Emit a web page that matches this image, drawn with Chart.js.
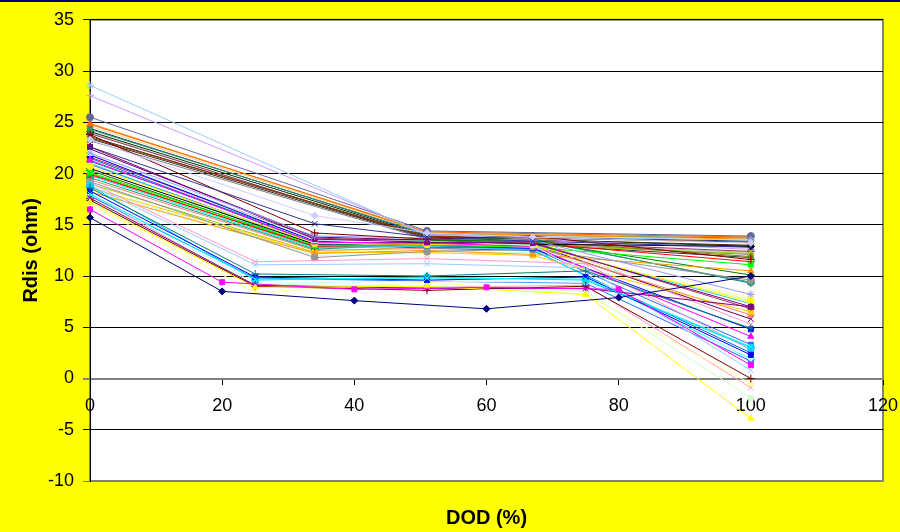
<!DOCTYPE html>
<html><head><meta charset="utf-8">
<script src="https://cdn.jsdelivr.net/npm/chart.js@4/dist/chart.umd.min.js"></script>
<style>html,body{margin:0;padding:0;background:#ffff00;overflow:hidden}#wrap{width:900px;height:532px;position:relative}canvas{display:block}</style>
</head><body><div id="wrap"><canvas id="c" width="900" height="532"></canvas></div>
<script>
// x values (DOD %) for each group of test series
const dodA = [0, 34, 51, 67, 100];
const dodB = [0, 51, 100];
const dodC = [0, 25, 51, 75, 100];
const dodD = [0, 20, 40, 60, 80, 100];

// Rdis (ohm) values, one array per series
const rdisA = [
  [22.6, 15.1, 13.8, 13.4, 12.8],
  [23.3, 15.9, 14.2, 13.8, 13.2],
  [23.8, 14.2, 13.6, 13.9, 11.6],
  [22.0, 13.9, 13.7, 13.5, 8.2],
  [22.6, 13.6, 13.3, 13.2, 7.0],
  [22.0, 13.5, 13.4, 13.0, 1.6],
  [21.3, 13.3, 13.2, 12.9, 4.1],
  [20.7, 13.2, 13.1, 13.0, 7.5],
  [20.1, 13.0, 13.0, 12.8, 11.1],
  [20.5, 13.1, 13.3, 13.1, 12.9],
  [19.9, 12.9, 13.1, 13.2, 11.4],
  [21.8, 13.4, 13.0, 12.7, 4.8],
  [19.2, 11.8, 12.4, 12.6, 9.6],
  [18.2, 12.2, 12.5, 12.1, 10.5],
  [18.6, 12.3, 12.3, 12.0, 6.5],
  [21.0, 12.8, 12.9, 13.1, 7.3],
  [20.9, 13.1, 12.8, 12.7, 3.3],
  [20.3, 12.9, 13.5, 13.4, 10.1],
  [19.6, 12.6, 13.2, 13.5, 9.4],
  [21.6, 13.7, 13.4, 13.3, 6.8],
  [19.8, 12.7, 12.9, 12.6, 1.9],
  [19.4, 12.5, 12.7, 12.9, 6.2],
  [21.5, 13.2, 12.7, 12.5, 2.5],
  [22.4, 13.8, 13.5, 13.1, 5.8],
  [20.0, 12.8, 13.1, 13.4, 11.9],
  [21.2, 13.5, 13.6, 13.6, 9.3],
  [20.4, 12.4, 12.6, 12.5, 7.9],
  [19.0, 12.3, 12.9, 13.0, 12.2],
  [18.5, 12.0, 12.2, 12.3, 7.7],
  [21.9, 13.0, 13.2, 13.7, 5.3]
];
const rdisB = [
  [28.6, 14.0, 13.5],
  [27.6, 14.1, 12.6],
  [25.5, 14.4, 13.9],
  [24.8, 14.3, 13.8],
  [24.9, 14.2, 13.6],
  [24.3, 14.1, 13.7],
  [23.5, 13.9, 13.3],
  [24.4, 14.0, 13.4],
  [23.6, 13.8, 13.0],
  [23.9, 13.7, 12.4],
  [24.1, 13.9, 12.9],
  [24.6, 14.2, 13.8],
  [23.2, 13.6, 12.1],
  [23.4, 13.7, 11.8],
  [24.0, 13.6, 12.3]
];
const rdisC = [
  [17.2, 8.9, 9.0, 8.2, -3.9],
  [18.0, 9.7, 9.8, 9.7, 3.1],
  [17.6, 9.1, 8.8, 8.8, 7.0],
  [17.4, 9.0, 8.6, 9.0, 0.0],
  [18.6, 10.2, 10.0, 10.5, 4.9],
  [18.3, 9.9, 9.6, 9.9, 2.3],
  [18.8, 9.6, 9.9, 9.6, 3.0],
  [18.0, 9.3, 9.5, 9.4, 2.0],
  [17.5, 9.2, 9.0, 8.5, -1.9],
  [17.0, 8.4, 9.4, 8.2, -0.5],
  [18.9, 11.1, 11.2, 10.8, 0.8],
  [19.1, 11.4, 11.7, 11.2, 2.8],
  [17.8, 9.8, 9.5, 9.3, 1.7],
  [17.9, 9.0, 8.9, 9.1, -0.9]
];
const rdisD = [
  [15.7, 8.5, 7.6, 6.8, 7.9, 10.0],
  [16.5, 9.4, 8.7, 8.9, 8.7, 1.3]
];

// tick settings
const yMin = -10, yMax = 35, yStep = 5;
const xMin = 0, xMax = 120, xStep = 20;

// styles
const colorsA = ['#333399','#CCCCFF','#800000','#9999FF','#800080','#CCFFFF','#FF00FF','#FFFF00','#00FF00','#000000','#FF0000','#0000FF','#969696','#FF9900','#FFCC00','#33CCCC','#3366FF','#008000','#339966','#993366','#00FFFF','#FF8080','#0066CC','#660066','#808000','#008080','#FFFF99','#99CC00','#CCFFCC','#FF99CC'];
const markersA = ['crossRot','rectRot','cross','star','rect','rect','triangle','circle','rect','rectRot','cross','rect','circle','triangle','rect','crossRot','rect','star','circle','star','circle','rectRot','rect','crossRot','triangle','cross','rect','triangle','rectRot','crossRot'];
const colorsB = ['#99CCFF','#CC99FF','#666699','#FF6600','#FF9900','#339966','#993300','#003366','#333300','#993366','#003300','#FFCC99','#808080','#333333','#C0C0C0'];
const markersB = ['star','cross','circle','triangle','crossRot','rect','triangle','rect','crossRot','star','rectRot','circle','triangle','crossRot','rect'];
const colorsC = ['#FFFF00','#00FFFF','#800080','#800000','#008080','#0000FF','#00CCFF','#CCFFFF','#CCFFCC','#FFFF99','#99CCFF','#FF99CC','#3366FF','#FF99CC'];
const markersC = ['triangle','crossRot','star','cross','cross','rect','circle','rectRot','rect','triangle','crossRot','crossRot','rect','crossRot'];
const colorsD = ['#000080','#FF00FF'];
const markersD = ['rectRot','rect'];

const FONT = "'Liberation Sans', Arial, sans-serif";

function makeSets(xs, groups, colors, markers) {
  return groups.map((ys, i) => ({
    label: 'S',
    data: xs.map((x, k) => ({x: x, y: ys[k]})),
    showLine: true,
    borderColor: colors[i],
    backgroundColor: colors[i],
    pointBackgroundColor: colors[i],
    pointBorderColor: colors[i],
    pointStyle: markers[i],
    pointRadius: (markers[i] === 'cross' || markers[i] === 'crossRot' || markers[i] === 'star') ? 4 : 3.5,
    pointBorderWidth: 1,
    borderWidth: 1,
    clip: false,
    tension: 0
  }));
}

const datasets = [].concat(
  makeSets(dodD, rdisD, colorsD, markersD),
  makeSets(dodC, rdisC, colorsC, markersC),
  makeSets(dodA, rdisA, colorsA, markersA),
  makeSets(dodB, rdisB, colorsB, markersB)
);

const frame = {
  id: 'frame',
  beforeDraw(chart) {
    const {ctx, chartArea: a} = chart;
    ctx.save();
    ctx.fillStyle = '#ffffff';
    ctx.fillRect(a.left, a.top, a.right - a.left, a.bottom - a.top);
    ctx.strokeStyle = '#808080';
    ctx.lineWidth = 2;
    ctx.strokeRect(a.left, a.top, a.right - a.left, a.bottom - a.top);
    ctx.fillStyle = '#000066';
    ctx.fillRect(0, 0, chart.width, 2);
    ctx.restore();
  }
};

new Chart(document.getElementById('c'), {
  type: 'scatter',
  data: { datasets },
  plugins: [frame],
  options: {
    responsive: false,
    devicePixelRatio: 1,
    animation: false,
    layout: { padding: { top: 17, right: 17, left: 0, bottom: 0 } },
    plugins: {
      legend: { display: false },
      tooltip: { enabled: false },
      title: {
        display: true, position: 'bottom', fullSize: false, text: 'DOD (%)', color: '#000',
        font: { family: FONT, size: 20, weight: 'bold' },
        padding: { top: 25, bottom: 2 }
      }
    },
    scales: {
      x: {
        type: 'linear', min: xMin, max: xMax, position: { y: 0 },
        ticks: { stepSize: xStep, color: '#000', padding: 12, font: { family: FONT, size: 18 } },
        grid: { drawOnChartArea: false, drawTicks: true, tickLength: 5, color: '#000' },
        border: { display: true, color: '#808080', width: 2 },
        afterFit: s => { s.paddingLeft = 0; s.paddingRight = 0; }
      },
      y: {
        min: yMin, max: yMax,
        ticks: { stepSize: yStep, color: '#000', padding: 9, font: { family: FONT, size: 18 } },
        grid: {
          color: c => (c.tick && (c.tick.value === 0 || c.tick.value === yMin)) ? '#808080' : '#000000',
          lineWidth: c => (c.tick && c.tick.value === 0) ? 2 : 1,
          tickLength: 7
        },
        border: { display: true, color: '#000', width: 1 },
        title: { display: true, text: 'Rdis (ohm)', color: '#000', font: { family: FONT, size: 20, weight: 'bold' }, padding: { top: 19, bottom: 0 } },
        afterFit: s => { s.width = 90; }
      }
    }
  }
});
</script>
</body></html>
